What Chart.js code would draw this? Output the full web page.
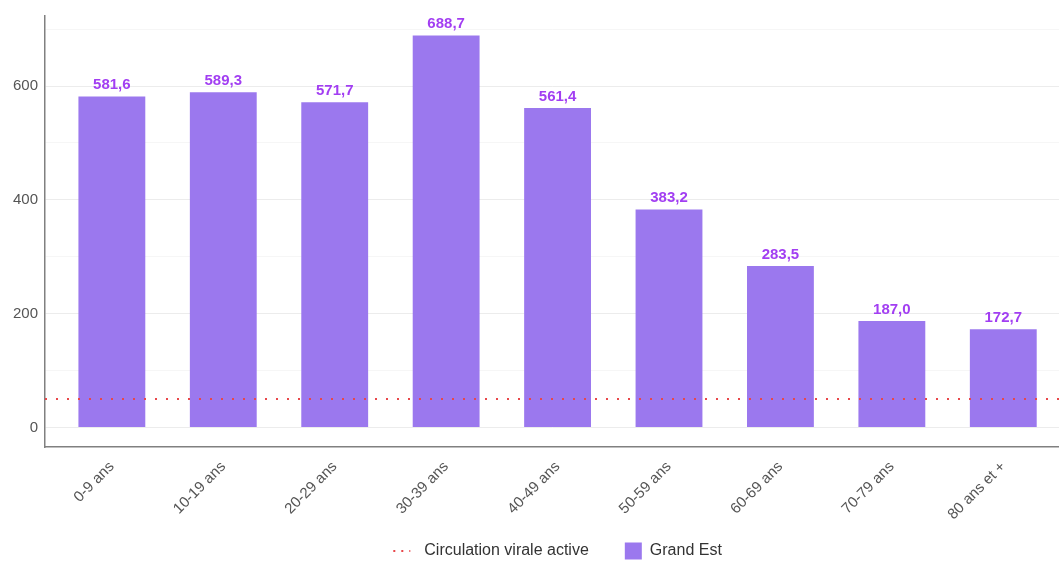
<!DOCTYPE html>
<html>
<head>
<meta charset="utf-8">
<script src="https://cdn.jsdelivr.net/npm/chart.js@4.4.1/dist/chart.umd.min.js"></script>
<style>
  html, body { margin: 0; padding: 0; background: #fff; }
  #wrap { width: 1059px; height: 562px; }
</style>
</head>
<body>
<div id="wrap"><canvas id="chart"></canvas></div>
<script>
const categories = ['0-9 ans', '10-19 ans', '20-29 ans', '30-39 ans', '40-49 ans', '50-59 ans', '60-69 ans', '70-79 ans', '80 ans et +'];
const grandEst = [581.6, 589.3, 571.7, 688.7, 561.4, 383.2, 283.5, 187.0, 172.7];
const seuil = 50;
const yTicks = [0, 100, 200, 300, 400, 500, 600, 700];
const legendLabels = ['Circulation virale active', 'Grand Est'];

const barColor = '#9b78ee';
const labelColor = '#a23ef2';
const lineColor = '#e8474a';
const fontFamily = '"Liberation Sans", Arial, sans-serif';

// value labels above bars
const valueLabels = {
  id: 'valueLabels',
  afterDatasetsDraw(chart) {
    const meta = chart.getDatasetMeta(1);
    const ctx = chart.ctx;
    ctx.save();
    ctx.font = 'bold 15px ' + fontFamily;
    ctx.fillStyle = labelColor;
    ctx.textAlign = 'center';
    ctx.textBaseline = 'bottom';
    meta.data.forEach((bar, i) => {
      ctx.fillText(grandEst[i].toFixed(1).replace('.', ','), bar.x, bar.y - 4);
    });
    ctx.restore();
  }
};

// legend drawn below the axis, centred on the middle category
const bottomLegend = {
  id: 'bottomLegend',
  afterDraw(chart) {
    const ctx = chart.ctx;
    const xs = chart.scales.x;
    ctx.save();
    ctx.font = '16px ' + fontFamily;
    const w1 = ctx.measureText(legendLabels[0]).width;
    const w2 = ctx.measureText(legendLabels[1]).width;
    const sym = 17, gap1 = 14, gap2 = 36, gap3 = 8;
    const total = sym + gap1 + w1 + gap2 + sym + gap3 + w2;
    const cx = xs.getPixelForValue((categories.length - 1) / 2);
    const y = chart.height - 11;
    let x = cx - total / 2;
    // dotted line symbol
    ctx.strokeStyle = lineColor;
    ctx.lineWidth = 2;
    ctx.setLineDash([2, 6]);
    ctx.beginPath();
    ctx.moveTo(x, y);
    ctx.lineTo(x + sym, y);
    ctx.stroke();
    ctx.setLineDash([]);
    x += sym + gap1;
    ctx.fillStyle = '#333';
    ctx.textBaseline = 'middle';
    ctx.textAlign = 'left';
    ctx.fillText(legendLabels[0], x, y);
    x += w1 + gap2;
    ctx.fillStyle = barColor;
    ctx.fillRect(x, y - sym / 2, sym, sym);
    x += sym + gap3;
    ctx.fillStyle = '#333';
    ctx.fillText(legendLabels[1], x, y);
    ctx.restore();
  }
};

new Chart('chart', {
  data: {
    datasets: [{
      type: 'line',
      label: legendLabels[0],
      data: [{ x: -0.6, y: seuil }, { x: 8.5, y: seuil }],
      borderColor: lineColor,
      borderWidth: 2,
      borderDash: [2, 9],
      pointRadius: 0,
      order: 0
    }, {
      type: 'bar',
      label: legendLabels[1],
      data: grandEst.map((v, i) => ({ x: i, y: v })),
      backgroundColor: barColor,
      barPercentage: 0.6,
      categoryPercentage: 1,
      order: 1
    }]
  },
  options: {
    responsive: true,
    maintainAspectRatio: false,
    animation: false,
    layout: { padding: { top: 15, right: 0, left: 0, bottom: 36 } },
    plugins: {
      tooltip: { enabled: false },
      legend: { display: false }
    },
    scales: {
      x: {
        type: 'linear',
        offset: false,
        min: -0.6,
        max: 8.5,
        afterBuildTicks(scale) {
          scale.ticks = categories.map((c, i) => ({ value: i }));
        },
        afterFit(scale) { scale.height = 79; },
        ticks: {
          autoSkip: false,
          minRotation: 45,
          maxRotation: 45,
          color: '#555',
          font: { family: fontFamily, size: 15 },
          callback: (v) => categories[v]
        },
        grid: { display: false },
        border: { display: true, color: '#808080', width: 1.5 }
      },
      y: {
        min: -34.4,
        max: 723.1,
        afterBuildTicks(scale) {
          scale.ticks = yTicks.map(v => ({ value: v }));
        },
        afterFit(scale) { scale.width = 45; },
        ticks: {
          color: '#555',
          padding: 7,
          font: { family: fontFamily, size: 15 },
          callback: (v) => (v % 200 === 0 ? v : '')
        },
        grid: {
          drawTicks: false,
          color: (c) => (c.tick && c.tick.value % 200 === 0 ? '#ececec' : '#f6f6f6'),
          lineWidth: 1
        },
        border: { display: true, color: '#808080', width: 1.5 }
      }
    }
  },
  plugins: [valueLabels, bottomLegend]
});
</script>
</body>
</html>
